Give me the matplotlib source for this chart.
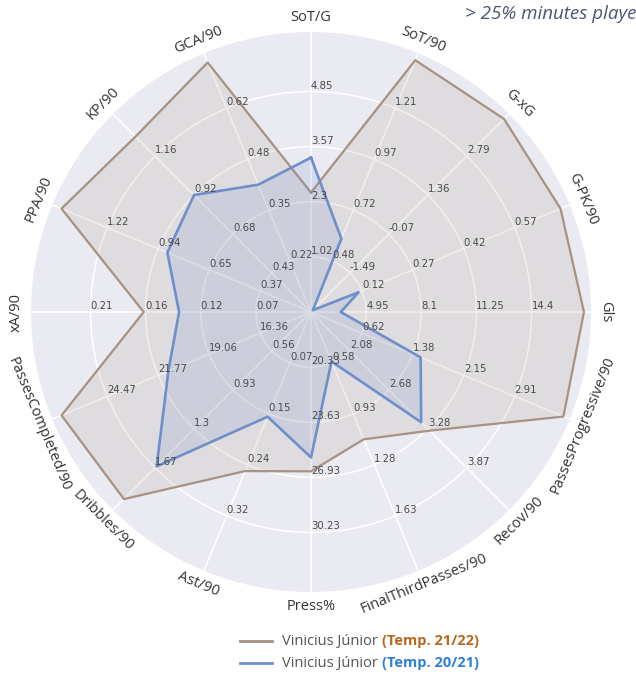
import numpy as np
import matplotlib
matplotlib.use('Agg')
import matplotlib.pyplot as plt
from matplotlib import transforms
from matplotlib.lines import Line2D

categories = ['SoT/G', 'SoT/90', 'G-xG', 'G-PK/90', 'Gls', 'PassesProgressive/90',
              'Recov/90', 'FinalThirdPasses/90', 'Press%', 'Ast/90', 'Dribbles/90',
              'PassesCompleted/90', 'xA/90', 'PPA/90', 'KP/90', 'GCA/90']

# tick labels on rings 1..4 for each axis
ticks = [
    [1.02, 2.3, 3.57, 4.85],
    [0.48, 0.72, 0.97, 1.21],
    [-1.49, -0.07, 1.36, 2.79],
    [0.12, 0.27, 0.42, 0.57],
    [4.95, 8.1, 11.25, 14.4],
    [0.62, 1.38, 2.15, 2.91],
    [2.08, 2.68, 3.28, 3.87],
    [0.58, 0.93, 1.28, 1.63],
    [20.33, 23.63, 26.93, 30.23],
    [0.07, 0.15, 0.24, 0.32],
    [0.56, 0.93, 1.3, 1.67],
    [16.36, 19.06, 21.77, 24.47],
    [0.07, 0.12, 0.16, 0.21],
    [0.37, 0.65, 0.94, 1.22],
    [0.43, 0.68, 0.92, 1.16],
    [0.22, 0.35, 0.48, 0.62],
]

vini_2122 = [2.51, 1.44, 4.15, 0.705, 17.4, 3.64, 3.30, 1.105, 26.57, 0.247,
             1.966, 26.9, 0.165, 1.475, 1.282, 0.74]
vini_2021 = [3.32, 0.587, -2.85, 0.11, 3.5, 1.50, 3.17, 0.57, 25.74, 0.158,
             1.655, 21.23, 0.135, 0.886, 0.917, 0.42]

series_names = ['Vinicius Júnior ', 'Vinicius Júnior ']
series_tags = ['(Temp. 21/22)', '(Temp. 20/21)']
line_colors = ['#A89282', '#6E8FC9']
tag_colors = ['#B8691E', '#2F7ED8']


def scale(vals):
    out = []
    for v, t in zip(vals, ticks):
        d = (t[-1] - t[0]) / (len(t) - 1)
        low = t[0] - d
        out.append(np.clip((v - low) / d, 0, 5))
    return np.array(out)


W, H = 636, 679
cx, cy, R = 311, 312, 280
RMAX = 5.08

fig = plt.figure(figsize=(W / 100, H / 100), dpi=100)
fig.patch.set_facecolor('white')
ax = fig.add_axes([(cx - R) / W, (H - cy - R) / H, 2 * R / W, 2 * R / H], projection='polar')
ax.set_facecolor('#EAEAF2')
ax.set_theta_offset(np.pi / 2)
ax.set_theta_direction(-1)
N = len(categories)
angles = np.arange(N) * 2 * np.pi / N
ax.set_ylim(0, RMAX)
ax.set_xticks(angles)
ax.set_xticklabels([])
ax.set_yticks([1, 2, 3, 4])
ax.set_yticklabels([])
ax.tick_params(length=0)
ax.grid(True, color='white', linewidth=1.1)
ax.spines['polar'].set_visible(False)

closed = np.append(angles, angles[0])

# series 21/22
r1 = scale(vini_2122)
ax.fill(closed, np.append(r1, r1[0]), color='#A08878', alpha=0.14, zorder=2)
ax.plot(closed, np.append(r1, r1[0]), color=line_colors[0], linewidth=1.6, zorder=3)

# series 20/21
r2 = scale(vini_2021)
ax.fill(closed, np.append(r2, r2[0]), color='#7090C8', alpha=0.17, zorder=4)
ax.plot(closed, np.append(r2, r2[0]), color=line_colors[1], linewidth=1.9, zorder=5)

# tick labels along each axis
off = transforms.offset_copy(ax.transData, fig=fig, x=0, y=1, units='dots')
for ang, tl in zip(angles, ticks):
    for k, t in enumerate(tl):
        ax.text(ang, k + 1, f"{t:g}", transform=off, ha='left', va='bottom',
                fontsize=7.3, color='#4a4a4a', zorder=6)

# category labels
for ang, cat in zip(angles, categories):
    phi = np.degrees(ang) % 360
    if 90 < phi < 270:
        rot = 180 - phi
    else:
        rot = -phi
    ax.text(ang, 5.34, cat, ha='center', va='center', rotation=rot,
            rotation_mode='anchor', fontsize=10.5, color='#333333',
            family='Open Sans', zorder=6)

# title note (runs off the right edge, as in the original)
fig.text(465 / W, 1 - 14 / H, '> 25% minutes played', style='italic',
         color='#4A5670', fontsize=13.5, ha='left', va='center', family='Open Sans')

# custom legend
fig.canvas.draw()
renderer = fig.canvas.get_renderer()
rows_y = [641, 663]
for i in range(2):
    yf = 1 - rows_y[i] / H
    fig.add_artist(Line2D([240 / W, 272 / W], [yf, yf], color=line_colors[i],
                          linewidth=2, transform=fig.transFigure))
    t1 = fig.text(282 / W, yf, series_names[i], color='#555555', fontsize=10.5,
                  family='Open Sans', ha='left', va='center')
    bb = t1.get_window_extent(renderer=renderer)
    fig.text(bb.x1 / fig.bbox.width, yf, series_tags[i], color=tag_colors[i],
             fontsize=10.5, family='Open Sans', fontweight='bold', ha='left', va='center')

fig.savefig('out.png', dpi=100, facecolor='white')
